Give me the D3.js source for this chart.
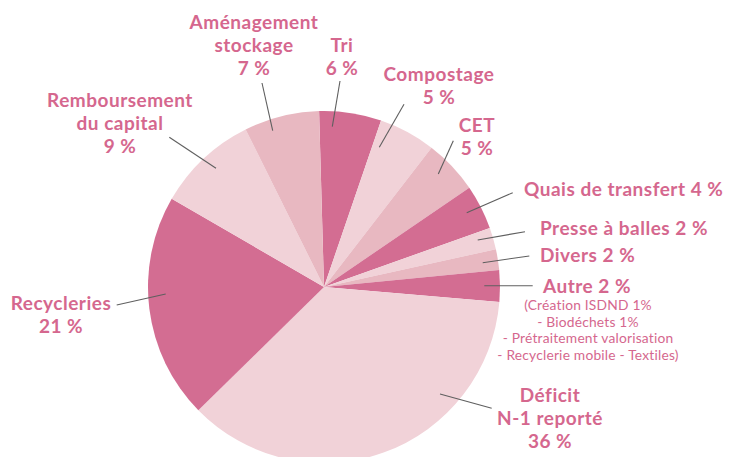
<!DOCTYPE html>
<html><head><meta charset="utf-8">
<script src="https://cdn.jsdelivr.net/npm/d3@7"></script>
<style>
html,body{margin:0;padding:0;background:#fff;}
svg{display:block;}
</style></head>
<body>
<svg id="chart" width="731" height="457"></svg>
<script>
const categories = ["Tri","Compostage","CET","Quais de transfert","Presse à balles","Divers","Autre","Déficit N-1 reporté","Recycleries","Remboursement du capital","Aménagement stockage"];
const values = [5.7, 5.2, 5.0, 4.1, 2.0, 1.9, 2.9, 36.3, 20.7, 9.3, 6.9];
const shades = ["dark","light","mid","dark","light","mid","dark","light","dark","light","mid"];
const labelLines = [
  ["Tri","6 %"],
  ["Compostage","5 %"],
  ["CET","5 %"],
  ["Quais de transfert 4 %"],
  ["Presse à balles 2 %"],
  ["Divers 2 %"],
  ["Autre 2 %"],
  ["Déficit","N-1 reporté","36 %"],
  ["Recycleries","21 %"],
  ["Remboursement","du capital","9 %"],
  ["Aménagement","stockage","7 %"]
];
const autreNote = ["(Création ISDND 1%","- Biodéchets 1%","- Prétraitement valorisation","- Recyclerie mobile - Textiles)"];

const colors = {dark:"#d36d92", light:"#f1d2d8", mid:"#e8b8c1"};
const textColor = "#d5678e";

const svg = d3.select("#chart");
const cx = 324, cy = 287, R = 176;
const startA = -1.6 * Math.PI / 180;

const pie = d3.pie().value(d => d).sort(null)
  .startAngle(startA).endAngle(startA + 2 * Math.PI);
const arcs = pie(values);
const arc = d3.arc().innerRadius(0).outerRadius(R);

const g = svg.append("g").attr("transform", `translate(${cx},${cy})`);
g.selectAll("path").data(arcs).enter().append("path")
  .attr("d", arc)
  .attr("fill", (d, i) => colors[shades[i]]);

// label anchor, leader line outer point (p1) and inner point (p2)
const layout = [
  {x:342, y:51.5, a:"middle", p1:[340,81], p2:[332.3,126.7]},
  {x:439, y:81, a:"middle", p1:[404,104.3], p2:[379.3,147.3]},
  {x:477, y:131.5, a:"middle", p1:[453.3,140.7], p2:[438.3,174]},
  {x:524, y:196, a:"start", p1:[512.7,192.7], p2:[466.7,212.7]},
  {x:540, y:235, a:"start", p1:[525,231.7], p2:[477.7,240]},
  {x:540, y:262, a:"start", p1:[529.3,256], p2:[482.7,262.7]},
  {x:543, y:293, a:"start", p1:[532.7,285.7], p2:[484.3,285.7]},
  {x:550, y:401.5, a:"middle", p1:[491.7,408.3], p2:[440,394]},
  {x:61, y:310, a:"middle", p1:[116.7,305], p2:[165.7,294]},
  {x:120, y:106.5, a:"middle", p1:[169.3,137.3], p2:[216,168.3]},
  {x:254, y:28.5, a:"middle", p1:[262,83], p2:[272.7,130.7]}
];
const lh = 23.2;

const labels = svg.append("g");
arcs.forEach((d, i) => {
  const L = layout[i];
  const t = labels.append("text")
    .attr("x", L.x).attr("y", L.y)
    .attr("text-anchor", L.a)
    .attr("fill", textColor)
    .attr("font-family", "Lato, 'Open Sans', sans-serif")
    .attr("font-weight", 700)
    .attr("font-size", 19)
    .attr("letter-spacing", 0.5);
  labelLines[i].forEach((s, k) => {
    t.append("tspan").attr("x", L.x).attr("dy", k === 0 ? 0 : lh).text(s);
  });
  svg.append("line")
    .attr("x1", L.p1[0]).attr("y1", L.p1[1])
    .attr("x2", L.p2[0]).attr("y2", L.p2[1])
    .attr("stroke", "#5f5f5f").attr("stroke-width", 1.1);
});

const note = svg.append("text")
  .attr("text-anchor", "middle")
  .attr("fill", textColor)
  .attr("font-family", "Lato, 'Open Sans', sans-serif")
  .attr("font-size", 13.8)
  .attr("letter-spacing", 0.2);
autreNote.forEach((s, k) => {
  note.append("tspan").attr("x", 588).attr("y", 310 + k * 16.7).text(s);
});
</script>
</body></html>
